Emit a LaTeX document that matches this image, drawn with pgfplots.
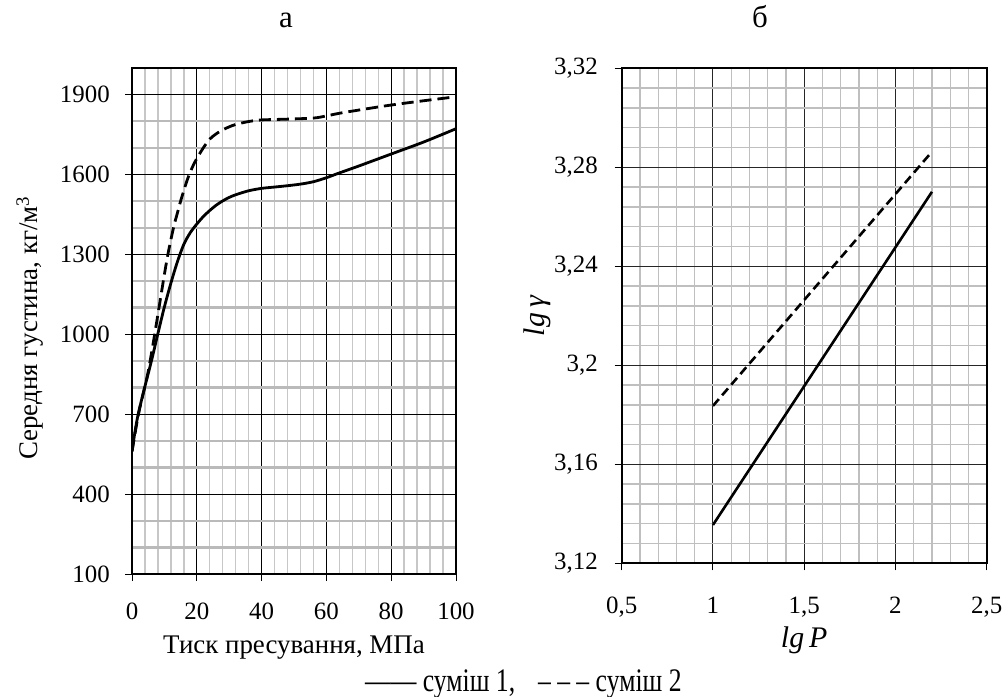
\documentclass[border=0pt]{standalone}
\usepackage{fontspec}
\setmainfont{Liberation Serif}
\newfontfamily\legfont[FakeStretch=0.78]{Liberation Serif}
\usepackage{pgfplots}
\pgfplotsset{compat=1.18}
\pgfplotstableread{
x y
0 560
1 640
2 705
4 805
6 900
8 1003
10 1103
12 1192
14 1272
16 1338
18 1382
20 1414
22 1442
24 1465
26 1485
28 1501
30 1514
32 1524
36 1539
40 1548
44 1553
48 1558
52 1564
56 1573
60 1588
64 1606
70 1632
80 1677
90 1722
100 1772
}\mixone
\pgfplotstableread{
x y
0 560
2 700
4 805
5 860
6 928
7 1000
8 1075
9 1150
10 1225
11 1295
12 1355
13 1410
14 1455
15 1500
16 1540
17 1578
18 1610
19 1637
20 1660
22 1700
24 1733
26 1753
28 1768
30 1779
32 1788
36 1799
40 1805
48 1808
56 1812
60 1820
64 1830
72 1846
80 1861
90 1877
100 1892
}\mixtwo
\pgfplotstableread{
x y
1 3.1355
2.2 3.2701
}\lgone
\pgfplotstableread{
x y
1 3.1836
2.2 3.2863
}\lgtwo
\begin{document}
\begin{tikzpicture}
\path[use as bounding box] (0bp,0bp) rectangle (1007bp,-697bp);
\pgfplotsset{
 common/.style={
  scale only axis,
  anchor=south west,
  axis line style={line width=2.2bp},
  tick align=outside, tick pos=left,
  major tick length=7bp, minor tick length=0pt,
  tick style={black, line width=1bp},
  grid=both,
  /pgf/number format/assume math mode=true,
  /pgf/number format/use comma,
  /pgf/number format/1000 sep={},
  tick label style={font=\fontsize{25}{29}\selectfont},
  label style={font=\fontsize{27}{31}\selectfont},
  title style={font=\fontsize{31}{35}\selectfont},
 }
}
\begin{axis}[common, at={(132bp,-574bp)}, width=324bp, height=506bp,
 xmin=0, xmax=100, ymin=100, ymax=2000,
 xtick={0,20,...,100}, ytick={100,400,...,1900},
 minor x tick num=4, minor y tick num=2,
 xticklabel style={anchor=base, yshift=-38bp},
 yticklabel style={anchor=east, inner xsep=0pt, xshift=-15bp},
 major grid style={black, line width=0.9bp},
 minor x grid style={black!22, line width=1.4bp},
 minor y grid style={black!27, line width=2.4bp},
 xlabel={Тиск пресування, МПа},
 xlabel style={at={(axis description cs:0.5,0)}, anchor=base, yshift=-79bp},
 ylabel={Середня густина, кг/м\textsuperscript{3}},
 ylabel style={at={(axis description cs:-0.315,0.486)}, anchor=center, rotate=0},
 title={а},
 title style={at={(axis description cs:0.475,1.069)}, anchor=base},
]
\addplot[black, line width=2.8bp, smooth] table {\mixone};
\addplot[black, line width=2.8bp, smooth, dash pattern=on 12bp off 6bp] table {\mixtwo};
\end{axis}
\begin{axis}[common, at={(621.7bp,-563.3bp)}, width=365bp, height=495bp,
 xmin=0.5, xmax=2.5, ymin=3.12, ymax=3.32,
 xtick={0.5,1,1.5,2,2.5}, ytick={3.12,3.16,3.2,3.24,3.28,3.32},
 minor x tick num=4, minor y tick num=4,
 xticklabel style={anchor=base, yshift=-42.7bp},
 yticklabel style={anchor=east, inner xsep=0pt, xshift=-16.7bp},
 major grid style={black!85, line width=1bp},
 minor grid style={black!25, line width=1.3bp},
 xlabel={\fontsize{30}{34}\selectfont\textit{lg\,P}},
 xlabel style={at={(axis description cs:0.5,0)}, anchor=base, yshift=-84bp},
 ylabel={\fontsize{30}{34}\selectfont\textit{lg\,γ}},
 ylabel style={at={(axis description cs:-0.232,0.5)}, anchor=center, rotate=0},
 title={б},
 title style={at={(axis description cs:0.379,1.071)}, anchor=base},
]
\addplot[black, line width=2.6bp] table {\lgone};
\addplot[black, line width=2.6bp, dash pattern=on 9bp off 5bp] table {\lgtwo};
\end{axis}
\node[anchor=base west, inner sep=0pt, font=\legfont\fontsize{33}{37}\selectfont] at (365bp,-691bp) {—— суміш 1,\enspace\ – – – суміш 2};
\end{tikzpicture}
\end{document}
